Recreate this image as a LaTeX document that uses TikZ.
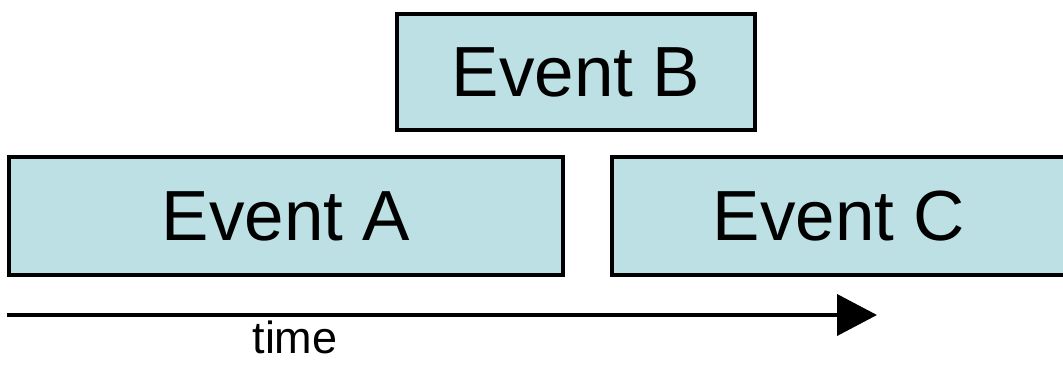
\documentclass[tikz,border=0pt]{standalone}
\usepackage{fontspec}
\setmainfont{Liberation Sans}
\usetikzlibrary{arrows.meta}
\definecolor{eventfill}{HTML}{BCE0E3}
\tikzset{
  eventbox/.style={draw=black, line width=4pt, fill=eventfill, inner sep=0pt,
    font=\fontsize{71}{80}\selectfont},
  timeline/.style={line width=4pt, -{Triangle[length=40pt,width=41pt]}},
}
\begin{document}
\begin{tikzpicture}[x=1pt,y=-1pt]
  \useasboundingbox (0,0) rectangle (1063,365);
  \clip (0,0) rectangle (1063,365);
  % the three events
  \node[eventbox, minimum width=358pt, minimum height=116pt] (b) at (576,72) {Event B};
  \node[eventbox, minimum width=554pt, minimum height=118pt] (a) at (286,216) {Event A};
  \node[eventbox, minimum width=454pt, minimum height=118pt] (c) at (839,216) {Event C};
  % time axis
  \coordinate (t0) at (7,315);
  \coordinate (t1) at (877,315);
  \draw[timeline] (t0) -- (t1);
  \node[anchor=base, inner sep=0pt, font=\fontsize{45}{50}\selectfont] (lbl) at (295,353) {time};
\end{tikzpicture}
\end{document}
